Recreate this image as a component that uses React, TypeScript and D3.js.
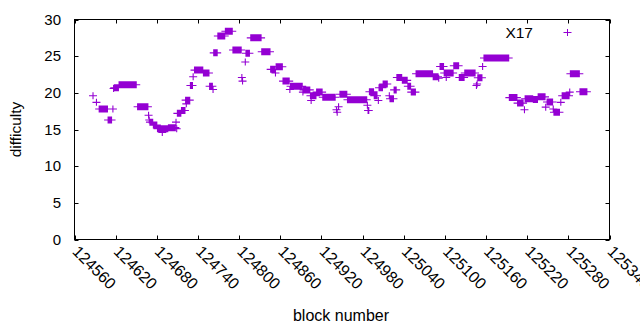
import React from "react";
import * as d3 from "d3";

// Runs of constant difficulty: [from block, to block] with value
const runFrom = [124587,124592,124596,124609,124616,124617,124618,124625,124652,124668,124669,124670,124675,124681,124688,124697,124708,124709,124710,124716,124722,124723,124729,124733,124735,124748,124757,124762,124763,124769,124780,124791,124804,124805,124809,124810,124817,124833,124846,124853,124854,124864,124874,124875,124893,124894,124904,124905,124913,124922,124942,124943,124945,124947,124958,124987,124988,124990,124997,125003,125004,125010,125019,125020,125026,125030,125038,125046,125051,125058,125083,125091,125093,125099,125102,125113,125121,125129,125146,125147,125148,125155,125157,125194,125206,125216,125217,125229,125236,125247,125249,125258,125259,125269,125271,125282,125283,125297];
const runTo = [124587,124592,124608,124614,124616,124617,124624,124650,124667,124668,124669,124674,124680,124696,124688,124707,124708,124709,124715,124721,124728,124723,124732,124733,124747,124756,124761,124762,124768,124779,124790,124803,124804,124805,124809,124815,124832,124845,124852,124853,124863,124873,124874,124892,124893,124903,124912,124905,124921,124940,124942,124943,124945,124957,124986,124987,124989,124996,125001,125003,125009,125016,125019,125025,125029,125037,125045,125050,125057,125082,125090,125091,125098,125112,125102,125120,125128,125144,125146,125147,125154,125155,125193,125205,125214,125216,125228,125235,125246,125247,125257,125258,125267,125269,125281,125282,125296,125307];
const runValue = [19.6,18.7,17.8,16.3,17.8,20.6,20.7,21.1,18.1,16.95,16.3,16.0,15.6,15.1,14.6,15.25,16.0,15.1,17.2,17.6,19.0,18.5,21.0,22.2,23.1,22.7,20.9,20.45,25.45,27.75,28.4,25.85,22.1,21.6,24.2,25.4,27.5,25.6,23.2,22.7,23.55,21.6,20.45,20.9,20.1,20.4,19.6,18.95,20.1,19.4,17.7,17.35,18.1,19.8,19.05,18.3,17.6,20.15,19.6,18.95,20.7,21.2,19.6,19.2,20.4,22.1,21.7,20.9,20.1,22.6,22.2,22.0,23.6,22.7,22.1,23.7,22.1,22.7,21.0,21.2,22.05,23.6,24.75,19.35,18.6,17.7,19.2,19.1,19.45,18.05,18.75,17.8,17.35,18.7,19.6,20.1,22.6,20.15];

const xTicks = [124560,124620,124680,124740,124800,124860,124920,124980,125040,125100,125160,125220,125280,125340];
const yTicks = [0,5,10,15,20,25,30];
const seriesName = "X17";

const W = 640, H = 330;
const L = 74.5, R = 609.5, T = 19.5, B = 239.5;
const COLOR = "#9400d3";
const FONT = "'Liberation Sans', Arial, sans-serif";

export default function App() {
  const x = d3.scaleLinear().domain([124560, 125340]).range([L, R]);
  const y = d3.scaleLinear().domain([0, 30]).range([B, T]);

  const points: { b: number; v: number }[] = [];
  runFrom.forEach((f, i) => {
    for (let b = f; b <= runTo[i]; b++) points.push({ b, v: runValue[i] });
  });

  const hx = 4, hy = 3.5;
  const plus = (cx: number, cy: number) =>
    `M${cx - hx},${cy}H${cx + hx}M${cx},${cy - hy}V${cy + hy}`;
  const d = points.map((p) => plus(x(p.b), y(p.v))).join("");

  const tl = 4;
  return (
    <svg width={W} height={H} style={{ position: "absolute", left: 0, top: 0, background: "#fff" }} fontFamily={FONT}>
      <rect x={0} y={0} width={W} height={H} fill="#fff" />
      {yTicks.map((t) => (
        <g key={"y" + t}>
          <line x1={L} x2={L + tl} y1={Math.round(y(t)) + 0.5} y2={Math.round(y(t)) + 0.5} stroke="#000" />
          <line x1={R} x2={R - tl} y1={Math.round(y(t)) + 0.5} y2={Math.round(y(t)) + 0.5} stroke="#000" />
          <text x={61} y={y(t)} dy="0.35em" textAnchor="end" fontSize={15} fill="#000">{t}</text>
        </g>
      ))}
      {xTicks.map((t) => (
        <g key={"x" + t}>
          <line x1={Math.round(x(t)) + 0.5} x2={Math.round(x(t)) + 0.5} y1={B} y2={B - tl} stroke="#000" />
          <line x1={Math.round(x(t)) + 0.5} x2={Math.round(x(t)) + 0.5} y1={T} y2={T + tl} stroke="#000" />
          <text transform={`translate(${x(t) + 1},${B + 9}) rotate(45)`} dy="0.35em" textAnchor="start" fontSize={16} fill="#000">{t}</text>
        </g>
      ))}
      <rect x={L} y={T} width={R - L} height={B - T} fill="none" stroke="#000" />
      <path d={d} stroke={COLOR} strokeWidth={1.1} fill="none" />
      <text x={533} y={37.5} textAnchor="end" fontSize={15.5} fill="#000">{seriesName}</text>
      <path d={plus(567.5, 32.5)} stroke={COLOR} strokeWidth={1} fill="none" />
      <text x={(L + R) / 2 - 1} y={321} textAnchor="middle" fontSize={16} fill="#000">block number</text>
      <text transform={`translate(21,${(T + B) / 2}) rotate(-90)`} textAnchor="middle" fontSize={15.5} fill="#000">difficulty</text>
    </svg>
  );
}
